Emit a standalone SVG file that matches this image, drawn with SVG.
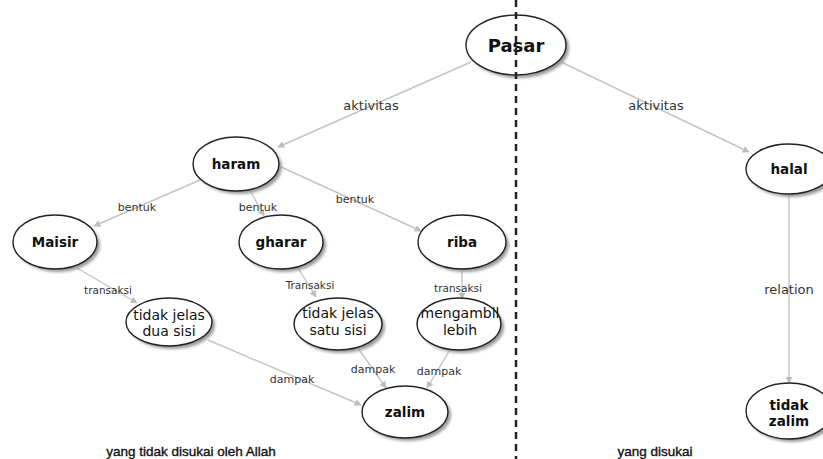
<svg xmlns="http://www.w3.org/2000/svg" width="823" height="459" viewBox="0 0 823 459">
<defs>
<filter id="sh" x="-20%" y="-20%" width="150%" height="150%">
<feGaussianBlur stdDeviation="1.5"/>
</filter>
<marker id="arr" viewBox="0 0 10 10" refX="9" refY="5" markerWidth="7" markerHeight="7" orient="auto" markerUnits="userSpaceOnUse">
<path d="M0,0 L10,5 L0,10 Z" fill="#bdbdbd"/>
</marker>
</defs>
<style>
.n ellipse.b{fill:#fff;stroke:#222;stroke-width:1.4}
.n ellipse.s{fill:#999;filter:url(#sh)}
.t{font-family:"DejaVu Sans",Verdana,sans-serif;fill:#111;text-anchor:middle}
.tb{font-weight:bold;font-size:13.5px}
.tn{font-size:14px}
.e line{stroke:#c4c4c4;stroke-width:1.4;marker-end:url(#arr)}
.l{font-family:"DejaVu Sans",Verdana,sans-serif;fill:#333;text-anchor:middle}
.cap{font-family:"Liberation Sans",Arial,sans-serif;font-size:13.5px;fill:#111;stroke:#111;stroke-width:0.35;text-anchor:middle}
</style>
<rect width="823" height="459" fill="#fff"/>
<g id="connectors" class="e">
<line x1="471" y1="62" x2="278" y2="147"/>
<line x1="561" y1="62" x2="749" y2="152"/>
<line x1="200" y1="180" x2="94" y2="226"/>
<line x1="250" y1="190" x2="264" y2="216"/>
<line x1="279" y1="166" x2="421" y2="231"/>
<line x1="77" y1="268" x2="137" y2="303"/>
<line x1="298" y1="268" x2="316" y2="297"/>
<line x1="462" y1="269" x2="462" y2="299"/>
<line x1="208" y1="340" x2="361" y2="405"/>
<line x1="358" y1="348" x2="386" y2="388"/>
<line x1="451" y1="348" x2="427" y2="388"/>
<line x1="789" y1="195" x2="789" y2="383"/>
</g>
<g id="edge-labels">
<text class="l" x="371" y="110" font-size="13">aktivitas</text>
<text class="l" x="656" y="110" font-size="13">aktivitas</text>
<text class="l" x="137" y="211" font-size="11">bentuk</text>
<text class="l" x="258" y="211" font-size="11">bentuk</text>
<text class="l" x="355" y="203" font-size="11">bentuk</text>
<text class="l" x="108" y="294" font-size="10.5">transaksi</text>
<text class="l" x="310" y="289" font-size="10.5">Transaksi</text>
<text class="l" x="458" y="292" font-size="10.5">transaksi</text>
<text class="l" x="292" y="383" font-size="11">dampak</text>
<text class="l" x="373" y="373" font-size="11">dampak</text>
<text class="l" x="439" y="375" font-size="11">dampak</text>
<text class="l" x="789" y="294" font-size="13">relation</text>
</g>
<g id="pasar" class="n">
<ellipse class="s" cx="519" cy="48" rx="50" ry="30"/>
<ellipse class="b" cx="516" cy="45" rx="50" ry="30"/>
<text class="t" x="516" y="52" font-size="18" font-weight="bold">Pasar</text>
</g>
<g id="haram" class="n">
<ellipse class="s" cx="239" cy="167" rx="43" ry="27"/>
<ellipse class="b" cx="236" cy="164" rx="43" ry="27"/>
<text class="t tb" x="236" y="169">haram</text>
</g>
<g id="halal" class="n">
<ellipse class="s" cx="792" cy="172" rx="43" ry="25"/>
<ellipse class="b" cx="789" cy="169" rx="43" ry="25"/>
<text class="t tb" x="789" y="174">halal</text>
</g>
<g id="maisir" class="n">
<ellipse class="s" cx="58" cy="245" rx="42" ry="27"/>
<ellipse class="b" cx="55" cy="242" rx="42" ry="27"/>
<text class="t tb" x="55" y="247">Maisir</text>
</g>
<g id="gharar" class="n">
<ellipse class="s" cx="284" cy="245" rx="42" ry="27"/>
<ellipse class="b" cx="281" cy="242" rx="42" ry="27"/>
<text class="t tb" x="281" y="247">gharar</text>
</g>
<g id="riba" class="n">
<ellipse class="s" cx="465" cy="245" rx="44" ry="27"/>
<ellipse class="b" cx="462" cy="242" rx="44" ry="27"/>
<text class="t tb" x="462" y="247">riba</text>
</g>
<g id="tidak-jelas-dua-sisi" class="n">
<ellipse class="s" cx="172" cy="325" rx="43" ry="24"/>
<ellipse class="b" cx="169" cy="322" rx="43" ry="24"/>
<text class="t tn" x="169" y="320">tidak jelas</text>
<text class="t tn" x="169" y="336">dua sisi</text>
</g>
<g id="tidak-jelas-satu-sisi" class="n">
<ellipse class="s" cx="341" cy="327" rx="44" ry="26"/>
<ellipse class="b" cx="338" cy="324" rx="44" ry="26"/>
<text class="t tn" x="338" y="318">tidak jelas</text>
<text class="t tn" x="338" y="335">satu sisi</text>
</g>
<g id="mengambil-lebih" class="n">
<ellipse class="s" cx="462" cy="327" rx="42" ry="26"/>
<ellipse class="b" cx="459" cy="324" rx="42" ry="26"/>
<text class="t tn" x="460" y="318">mengambil</text>
<text class="t tn" x="460" y="335">lebih</text>
</g>
<g id="zalim" class="n">
<ellipse class="s" cx="408" cy="415" rx="43" ry="26"/>
<ellipse class="b" cx="405" cy="412" rx="43" ry="26"/>
<text class="t tb" x="405" y="417">zalim</text>
</g>
<g id="tidak-zalim" class="n">
<ellipse class="s" cx="792" cy="414" rx="43" ry="28"/>
<ellipse class="b" cx="789" cy="411" rx="43" ry="28"/>
<text class="t tb" x="789" y="410">tidak</text>
<text class="t tb" x="789" y="426">zalim</text>
</g>
<line x1="516" y1="0" x2="516" y2="459" stroke="#222" stroke-width="2.5" stroke-dasharray="7,5"/>
<text class="cap" x="191" y="456">yang tidak disukai oleh Allah</text>
<text class="cap" x="655" y="456">yang disukai</text>
</svg>
